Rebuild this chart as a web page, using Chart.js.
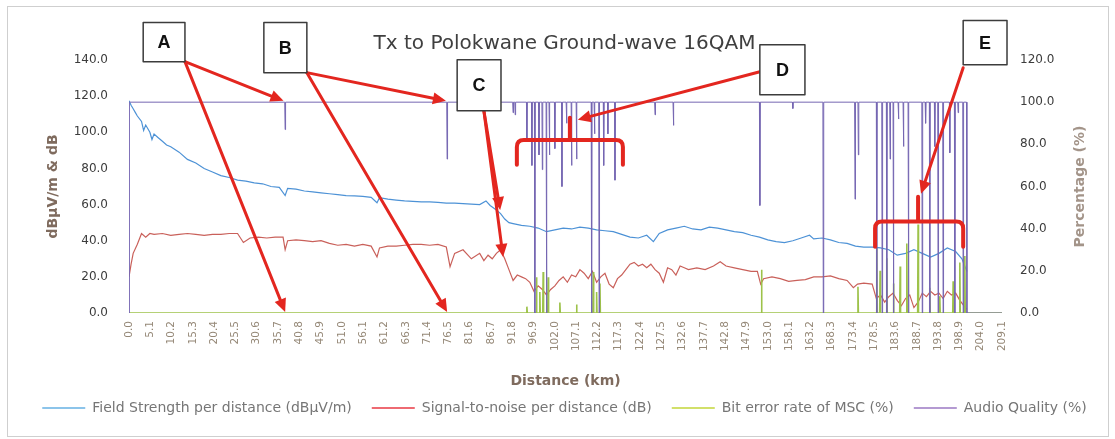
<!DOCTYPE html>
<html>
<head>
<meta charset="utf-8">
<title>Tx to Polokwane Ground-wave 16QAM</title>
<script src="https://cdn.jsdelivr.net/npm/chart.js@4.4.1/dist/chart.umd.min.js"></script>
<style>
  html, body { margin: 0; padding: 0; background: #fff; }
</style>
</head>
<body>
<canvas id="chart" width="1115" height="439"></canvas>
<script>
// Distance axis labels (km)
const distanceTicks = ['0.0', '5.1', '10.2', '15.3', '20.4', '25.5', '30.6', '35.7', '40.8', '45.9',
  '51.0', '56.1', '61.2', '66.3', '71.4', '76.5', '81.6', '86.7', '91.8', '96.9', '102.0', '107.1',
  '112.2', '117.3', '122.4', '127.5', '132.6', '137.7', '142.8', '147.9', '153.0', '158.1', '163.2',
  '168.3', '173.4', '178.5', '183.6', '188.7', '193.8', '198.9', '204.0', '209.1'];

// Field strength per distance (dBuV/m)
const fsKm = [0, 0.5, 1, 1.5, 2, 3, 3.5, 4, 5, 5.5, 6, 7, 8, 9, 10, 12, 14, 16, 18, 20, 22, 24, 26, 28,
  30, 32, 34, 36, 37.4, 38, 40, 42, 44, 46, 48, 50, 52, 54, 56, 58, 59.4, 60, 62, 64, 66, 68, 70, 72,
  74, 76, 78, 80, 82, 84, 85.5, 86.5, 88, 89, 90, 91, 92, 94, 96, 98, 100, 102, 104, 106, 108, 110,
  112, 114, 116, 118, 120, 122, 124, 125.6, 127, 129, 131, 133, 135, 137, 139, 141, 143, 145, 147,
  149, 151, 153, 155, 157, 159, 161, 163, 164, 166, 168, 170, 172, 174, 176, 178, 180, 182, 184, 186,
  188, 190, 192, 194, 196, 198, 199.5, 200.7];
const fsDb = [117.5, 115, 113, 111, 109, 106, 101, 104, 100, 96, 99, 97, 95, 93, 92, 89, 85, 83, 80,
  78, 76, 75, 73.5, 73, 72, 71.5, 70, 69.5, 65, 69, 68.5, 67.5, 67, 66.5, 66, 65.5, 65, 64.8, 64.5,
  64, 61, 63.8, 63, 62.5, 62, 61.8, 61.5, 61.5, 61.2, 60.8, 60.8, 60.5, 60.2, 60, 62, 59.5, 57, 55,
  52, 50, 49.5, 48.5, 48, 47, 45, 46, 47, 46.5, 47.5, 47, 46, 45.5, 45, 43.5, 42, 41.5, 43, 39.5, 44,
  46, 47, 48, 46.5, 46, 47.5, 47, 46, 45, 44.5, 43, 42, 40.5, 39.5, 39, 40, 41.5, 43, 41, 41.5, 40.5,
  39, 38.5, 37, 36.5, 36.5, 36, 35, 32, 33, 35, 33, 31, 33, 36, 34, 30, 23];

// Signal-to-noise per distance (dB)
const snrKm = [0, 0.5, 1, 2, 3, 4, 5, 6, 8, 10, 12, 14, 16, 18, 20, 22, 24, 26, 27.4, 29,
  31, 33, 35, 36.9, 37.4, 38, 40, 42, 44, 46, 48, 50, 52, 54, 56, 58, 59.4, 60, 62, 64,
  66, 68, 70, 72, 74, 76, 76.9, 78, 80, 82, 84, 85, 86, 87, 88, 89, 90, 91, 92, 93,
  94, 95, 96, 97, 98, 99, 100, 101, 102, 103, 104, 105, 106, 107, 108, 109, 110, 111, 112, 113,
  114, 115, 116, 117, 118, 119, 120, 121, 122, 123, 124, 125, 126, 127, 128, 129, 130, 131, 132, 133,
  134, 136, 138, 140, 141.6, 143, 145, 147, 149, 150.5, 151.3, 152, 154, 156, 158, 160, 162, 164, 166, 168,
  170, 172, 173.5, 174.5, 176, 178, 179, 180, 181, 182, 183, 184, 185, 186, 187, 188, 189, 190, 191, 192,
  193, 194, 195, 196, 197, 198, 199, 200, 200.7];
const snrDb = [20, 27, 33, 38, 44, 42, 44, 43.5, 44, 43, 43.5, 44, 43.5, 43, 43.5, 43.5, 44, 44, 39, 41.5,
  42, 41.5, 42, 42, 35, 40, 40.5, 40, 39.5, 40, 38.5, 37.5, 38, 37, 38, 37, 31, 36, 37, 37,
  37.5, 38, 38, 37.5, 38, 36.5, 25.6, 33, 35, 30, 33, 29, 32, 30, 33, 35, 30, 24, 18, 21,
  20, 19, 17, 12, 15, 13, 10, 13, 15, 18, 20, 17, 21, 20, 24, 22, 19, 23, 17, 20,
  22, 16, 14, 19, 21, 24, 27, 28, 26, 27, 25, 27, 24, 22, 17, 25, 24, 21, 26, 25,
  24, 25, 24, 26, 28.4, 26, 25, 24, 23, 23, 16, 19, 20, 19, 17.5, 18, 18.5, 20, 20, 20.5,
  19, 18, 14, 16, 16.5, 16, 8, 10, 6, 9, 11, 7, 4, 8, 10, 3, 6, 11, 9, 12,
  10, 11, 8, 12, 10, 11, 7, 4, 2];

// Bit error rate of MSC (%)
const berKm = [0, 95.2, 95.3, 95.4,
  97.5, 97.6, 97.7,  98.3, 98.4, 98.5,  99.1, 99.2, 99.3,  100.3, 100.4, 100.5,
  103.1, 103.2, 103.3,  107.1, 107.2, 107.3,  111.1, 111.2, 111.3,  111.9, 112.0, 112.1,
  112.7, 112.8, 112.9,  151.4, 151.5, 151.6,  174.5, 174.6, 174.7,  179.0, 179.1, 179.2,
  179.8, 179.9, 180.0,  181.4, 181.5, 181.6,  183.0, 183.1, 183.2,  184.6, 184.7, 184.8,
  186.2, 186.3, 186.4,  188.9, 189.0, 189.1,  191.7, 191.8, 191.9,  194.1, 194.2, 194.3,
  197.3, 197.4, 197.5,  198.9, 199.0, 199.1,  200.1, 200.2, 200.3,
  209.1];
const berPct = [0, 0, 3, 0,
  0, 17, 0,  0, 10, 0,  0, 19.5, 0,  0, 17, 0,
  0, 5, 0,  0, 4, 0,  0, 19.5, 0,  0, 10, 0,
  0, 14, 0,  0, 20.5, 0,  0, 12.5, 0,  0, 31, 0,
  0, 20, 0,  0, 26, 0,  0, 14, 0,  0, 22, 0,
  0, 33, 0,  0, 42, 0,  0, 12, 0,  0, 8, 0,
  0, 15, 0,  0, 24, 0,  0, 27, 0,
  0];

// Audio quality (%)
const audioKm = [0, 0.1,
  37.3, 37.4, 37.5,  76.1, 76.2, 76.3,  91.9, 92.0, 92.1,  92.4, 92.5, 92.6,
  95.2, 95.3, 95.4,  96.4, 96.5, 96.6,  97.1, 97.2, 97.3,  98.1, 98.2, 98.3,
  98.9, 99.0, 99.1,  99.9, 100.0, 100.1,  100.6, 100.7, 100.8,  101.9, 102.0, 102.1,
  103.6, 103.7, 103.8,  104.7, 104.8, 104.9,  105.9, 106.0, 106.1,  107.1, 107.2, 107.3,
  110.7, 110.8, 110.9,  111.4, 111.5, 111.6,  112.5, 112.6, 112.7,  113.6, 113.7, 113.8,
  114.6, 114.7, 114.8,  116.3, 116.4, 116.5,  125.9, 126.0, 126.1,  130.3, 130.4, 130.5,
  151.0, 151.1, 151.2,  158.9, 159.0, 159.1,  166.2, 166.3, 166.4,  173.8, 173.9, 174.0,
  174.6, 174.7, 174.8,  179.0, 179.1, 179.2,  180.3, 180.4, 180.5,  181.4, 181.5, 181.6,
  182.2, 182.3, 182.4,  183.0, 183.1, 183.2,  184.2, 184.3, 184.4,  185.4, 185.5, 185.6,
  186.6, 186.7, 186.8,  189.9, 190.0, 190.1,  190.7, 190.8, 190.9,  191.7, 191.8, 191.9,
  192.9, 193.0, 193.1,  193.7, 193.8, 193.9,  194.9, 195.0, 195.1,  196.5, 196.6, 196.7,
  197.7, 197.8, 197.9,  198.5, 198.6, 198.7,  199.7, 199.8, 199.9,
  200.6, 200.7, 209.1];
const audioPct = [0, 100,
  100, 87, 100,  100, 73, 100,  100, 95, 100,  100, 94, 100,
  100, 82, 100,  100, 70, 100,  100, 0, 100,  100, 75, 100,
  100, 68, 100,  100, 0, 100,  100, 75, 100,  100, 78, 100,
  100, 60, 100,  100, 90, 100,  100, 70, 100,  100, 73, 100,
  100, 0, 100,  100, 85, 100,  100, 0, 100,  100, 70, 100,
  100, 85, 100,  100, 63, 100,  100, 94, 100,  100, 89, 100,
  100, 51, 100,  100, 97, 100,  100, 0, 100,  100, 54, 100,
  100, 75, 100,  100, 0, 100,  100, 0, 100,  100, 0, 100,
  100, 73, 100,  100, 0, 100,  100, 92, 100,  100, 79, 100,
  100, 0, 100,  100, 0, 100,  100, 90, 100,  100, 0, 100,
  100, 79, 100,  100, 0, 100,  100, 0, 100,  100, 76, 100,
  100, 0, 100,  100, 95, 100,  100, 0, 100,
  100, 0, 0];

const seriesNames = ['Field Strength per distance (dBμV/m)', 'Signal-to-noise per distance (dB)',
  'Bit error rate of MSC (%)', 'Audio Quality (%)'];
const lineColours = ['#4d92d6', '#c9605a', '#9dc24a', '#7566b2'];
const legendColours = ['#8cc4ea', '#ee6a72', '#d2e06a', '#b49ad2'];

// call-outs drawn over the chart, positioned in km / left-axis units
const calloutBoxes = [
  { label: 'A', km: [3.4, 13.4], v: [160.7, 139.1] },
  { label: 'B', km: [32.3, 42.6], v: [160.7, 133] },
  { label: 'C', km: [78.6, 89.1], v: [140.2, 111.9] },
  { label: 'D', km: [151.1, 161.9], v: [148.5, 120.8] },
  { label: 'E', km: [199.8, 210.3], v: [161.8, 137.4] }
];
const calloutArrows = [
  [13.4, 139.1, 37.0, 117.4], [13.4, 139.1, 37.4, 0.6],
  [42.6, 133, 75.9, 117.4], [42.6, 133, 76.2, 0.6],
  [85, 111.9, 88.9, 57], [85, 111.9, 89.6, 31],
  [151.1, 133.5, 107.5, 107], [199.8, 135.7, 189.7, 66]
];
const calloutBraces = [
  { km: [92.9, 118.3], mid: 105.6, bar: 95.8, end: 82, peak: 108 },
  { km: [178.7, 199.8], mid: 189, bar: 50.6, end: 36.7, peak: 64.3 }
];

Chart.defaults.font.family = "'DejaVu Sans', sans-serif";

const toPoints = (xs, ys) => xs.map((x, i) => ({ x: x, y: ys[i] }));

const framePlugin = {
  id: 'frame',
  beforeDraw(chart) {
    const { ctx, width, height } = chart;
    ctx.save();
    ctx.fillStyle = '#ffffff';
    ctx.fillRect(0, 0, width, height);
    ctx.strokeStyle = '#cfcfcf';
    ctx.lineWidth = 1;
    ctx.strokeRect(7.5, 6.5, width - 14, height - 9);
    ctx.restore();
  }
};

// right axis title reads bottom-to-top like the left one
const rightTitlePlugin = {
  id: 'rightTitle',
  afterDraw(chart) {
    const { ctx, chartArea } = chart;
    ctx.save();
    ctx.translate(chartArea.right + 78, (chartArea.top + chartArea.bottom) / 2);
    ctx.rotate(-Math.PI / 2);
    ctx.font = "bold 14px 'DejaVu Sans'";
    ctx.fillStyle = '#a39489';
    ctx.textAlign = 'center';
    ctx.textBaseline = 'middle';
    ctx.fillText('Percentage (%)', 0, 0);
    ctx.restore();
  }
};

function drawArrow(ctx, x0, y0, x1, y1) {
  const ang = Math.atan2(y1 - y0, x1 - x0);
  const head = 13, half = 6;
  const bx = x1 - head * Math.cos(ang), by = y1 - head * Math.sin(ang);
  ctx.beginPath();
  ctx.moveTo(x0, y0);
  ctx.lineTo(bx, by);
  ctx.stroke();
  ctx.beginPath();
  ctx.moveTo(x1, y1);
  ctx.lineTo(bx + half * Math.sin(ang), by - half * Math.cos(ang));
  ctx.lineTo(bx - half * Math.sin(ang), by + half * Math.cos(ang));
  ctx.closePath();
  ctx.fill();
}

const calloutPlugin = {
  id: 'callouts',
  afterDraw(chart) {
    const { ctx } = chart;
    const px = km => chart.scales.x.getPixelForValue(km);
    const py = v => chart.scales.y.getPixelForValue(v);
    ctx.save();
    ctx.strokeStyle = '#e3261f';
    ctx.fillStyle = '#e3261f';
    ctx.lineCap = 'round';
    ctx.lineJoin = 'round';

    ctx.lineWidth = 4;
    calloutBraces.forEach(b => {
      const xl = px(b.km[0]), xr = px(b.km[1]), xm = px(b.mid);
      const yb = py(b.bar), ye = py(b.end), yp = py(b.peak);
      const r = 7;
      ctx.beginPath();
      ctx.moveTo(xl, ye);
      ctx.lineTo(xl, yb + r);
      ctx.quadraticCurveTo(xl, yb, xl + r, yb);
      ctx.lineTo(xr - r, yb);
      ctx.quadraticCurveTo(xr, yb, xr, yb + r);
      ctx.lineTo(xr, ye);
      ctx.moveTo(xm, yb);
      ctx.lineTo(xm, yp);
      ctx.stroke();
    });

    ctx.lineWidth = 3;
    calloutArrows.forEach(a => drawArrow(ctx, px(a[0]), py(a[1]), px(a[2]), py(a[3])));

    calloutBoxes.forEach(b => {
      const x0 = px(b.km[0]), x1 = px(b.km[1]), y0 = py(b.v[0]), y1 = py(b.v[1]);
      ctx.fillStyle = '#ffffff';
      ctx.fillRect(x0, y0, x1 - x0, y1 - y0);
      ctx.strokeStyle = '#3c3c3c';
      ctx.lineWidth = 1.5;
      ctx.strokeRect(x0, y0, x1 - x0, y1 - y0);
      ctx.fillStyle = '#111111';
      ctx.font = "bold 18px 'Liberation Sans', Arial, sans-serif";
      ctx.textAlign = 'center';
      ctx.textBaseline = 'middle';
      ctx.fillText(b.label, (x0 + x1) / 2, (y0 + y1) / 2 + 1);
    });
    ctx.restore();
  }
};

const ctx = document.getElementById('chart');

new Chart(ctx, {
  type: 'line',
  data: {
    datasets: [
      { label: seriesNames[0], data: toPoints(fsKm, fsDb), yAxisID: 'y', order: 4,
        borderColor: lineColours[0], borderWidth: 1.2 },
      { label: seriesNames[1], data: toPoints(snrKm, snrDb), yAxisID: 'y', order: 3,
        borderColor: lineColours[1], borderWidth: 1.2 },
      { label: seriesNames[2], data: toPoints(berKm, berPct), yAxisID: 'y1', order: 2,
        borderColor: lineColours[2], borderWidth: 1.6 },
      { label: seriesNames[3], data: toPoints(audioKm, audioPct), yAxisID: 'y1', order: 1,
        borderColor: lineColours[3], borderWidth: 1 }
    ]
  },
  options: {
    responsive: false,
    animation: false,
    events: [],
    elements: { point: { radius: 0 }, line: { tension: 0 } },
    layout: { padding: { left: 20, right: 6, top: 0, bottom: 14 } },
    plugins: {
      title: {
        display: true,
        text: 'Tx to Polokwane Ground-wave 16QAM',
        color: '#3f3f3f',
        font: { size: 20, weight: 'normal' },
        padding: { top: 32, bottom: 4 }
      },
      legend: {
        position: 'bottom',
        labels: {
          boxWidth: 43,
          boxHeight: 2,
          padding: 20,
          color: '#767676',
          font: { size: 14 },
          sort: (a, b) => a.datasetIndex - b.datasetIndex,
          generateLabels: chart => Chart.defaults.plugins.legend.labels.generateLabels(chart).map(item => {
            item.fillStyle = legendColours[item.datasetIndex];
            item.strokeStyle = legendColours[item.datasetIndex];
            item.lineWidth = 0;
            return item;
          })
        }
      },
      tooltip: { enabled: false }
    },
    scales: {
      x: {
        type: 'linear',
        min: 0,
        max: 209.1,
        afterBuildTicks: scale => { scale.ticks = distanceTicks.map(t => ({ value: parseFloat(t) })); },
        afterFit: scale => { scale.height = 68; },
        grid: { display: false, drawTicks: false },
        border: { display: false },
        ticks: {
          autoSkip: false,
          minRotation: 90,
          maxRotation: 90,
          padding: 8,
          color: '#958877',
          font: { size: 10.5 },
          callback: (value, index) => distanceTicks[index]
        },
        title: {
          display: true,
          text: 'Distance (km)',
          color: '#7f6b5e',
          font: { size: 14, weight: 'bold' },
          padding: { top: 0, bottom: -9 }
        }
      },
      y: {
        position: 'left',
        min: 0,
        max: 140,
        afterFit: scale => { scale.width = 109; },
        grid: { display: false, drawTicks: false },
        border: { display: false },
        ticks: { stepSize: 20, padding: 21, color: '#3c3c3c', font: { size: 12 },
          callback: v => v.toFixed(1) },
        title: {
          display: true,
          text: 'dBμV/m & dB',
          color: '#7f6b5e',
          font: { size: 14, weight: 'bold' },
          padding: { top: 25, bottom: 0 }
        }
      },
      y1: {
        position: 'right',
        min: 0,
        max: 120,
        afterFit: scale => { scale.width = 107; },
        grid: { display: false, drawTicks: false },
        border: { display: false },
        ticks: { stepSize: 20, padding: 18, color: '#3c3c3c', font: { size: 12 },
          callback: v => v.toFixed(1) }
      }
    }
  },
  plugins: [framePlugin, rightTitlePlugin, calloutPlugin]
});
</script>
</body>
</html>
